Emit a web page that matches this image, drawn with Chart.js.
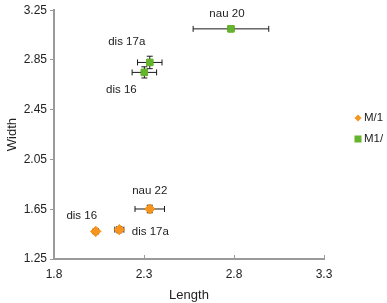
<!DOCTYPE html>
<html>
<head>
<meta charset="utf-8">
<script src="https://cdn.jsdelivr.net/npm/chart.js@4"></script>
<style>
  html, body { margin: 0; padding: 0; background: #ffffff; }
  #wrap { width: 387px; height: 303px; position: relative; }
</style>
</head>
<body>
<div id="wrap"><canvas id="chart"></canvas></div>
<script>
// series data
const seriesNames = ['M/1', 'M1/'];

const m1Labels = ['dis 16', 'dis 17a', 'nau 22'];
const m1Length = [2.032, 2.163, 2.332];
const m1Width = [1.472, 1.486, 1.652];
const m1LengthErr = [0.015, 0.025, 0.082];
const m1WidthErr = [0.012, 0.025, 0.03];

const m2Labels = ['dis 16', 'dis 17a', 'nau 20'];
const m2Length = [2.302, 2.332, 2.783];
const m2Width = [2.75, 2.83, 3.10];
const m2LengthErr = [0.068, 0.068, 0.21];
const m2WidthErr = [0.045, 0.05, 0.01];

const xTicks = [1.8, 2.3, 2.8, 3.3];
const yTicks = [1.25, 1.65, 2.05, 2.45, 2.85, 3.25];

const orange = '#F7941D';
const green = '#66B32E';
const font = "'Liberation Sans', Arial, sans-serif";

function toPoints(xs, ys, xe, ye, labels) {
    return xs.map((x, i) => ({ x: x, y: ys[i], xe: xe[i], ye: ye[i], label: labels[i] }));
}

// label offsets (pixels) relative to each point
const labelOffsets = [
    [[-14, -16], [31, 2], [0, -18]],
    [[-23, 17], [-23, -21], [-4, -15]]
];

const errorBars = {
    id: 'errorBars',
    afterDatasetsDraw(chart) {
        const ctx = chart.ctx;
        const xs = chart.scales.x, ys = chart.scales.y;
        ctx.save();
        ctx.strokeStyle = '#1a1a1a';
        ctx.lineWidth = 1;
        chart.data.datasets.forEach((ds, di) => {
            ds.data.forEach(p => {
                const cx = xs.getPixelForValue(p.x), cy = ys.getPixelForValue(p.y);
                const x0 = xs.getPixelForValue(p.x - p.xe), x1 = xs.getPixelForValue(p.x + p.xe);
                const y0 = ys.getPixelForValue(p.y - p.ye), y1 = ys.getPixelForValue(p.y + p.ye);
                const c = 3;
                ctx.beginPath();
                ctx.moveTo(x0, cy); ctx.lineTo(x1, cy);
                ctx.moveTo(x0, cy - c); ctx.lineTo(x0, cy + c);
                ctx.moveTo(x1, cy - c); ctx.lineTo(x1, cy + c);
                ctx.moveTo(cx, y0); ctx.lineTo(cx, y1);
                ctx.moveTo(cx - c, y0); ctx.lineTo(cx + c, y0);
                ctx.moveTo(cx - c, y1); ctx.lineTo(cx + c, y1);
                ctx.stroke();
            });
        });
        ctx.restore();
        // redraw points on top of the bars
        chart.data.datasets.forEach((ds, di) => {
            chart.getDatasetMeta(di).data.forEach(el => el.draw(ctx));
        });
    },
    afterDraw(chart) {
        const ctx = chart.ctx;
        const xs = chart.scales.x, ys = chart.scales.y;
        ctx.save();
        ctx.fillStyle = '#222';
        ctx.font = '11.5px ' + font;
        ctx.textAlign = 'center';
        ctx.textBaseline = 'middle';
        chart.data.datasets.forEach((ds, di) => {
            ds.data.forEach((p, i) => {
                const o = labelOffsets[di][i];
                ctx.fillText(p.label, xs.getPixelForValue(p.x) + o[0], ys.getPixelForValue(p.y) + o[1]);
            });
        });
        // inside tick marks on the x axis
        ctx.strokeStyle = '#9a9a9a';
        ctx.lineWidth = 1;
        xs.ticks.forEach(t => {
            const px = Math.round(xs.getPixelForValue(t.value)) + 0.5;
            ctx.beginPath();
            ctx.moveTo(px, ys.bottom);
            ctx.lineTo(px, ys.bottom - 4);
            ctx.stroke();
        });
        // legend
        ctx.textAlign = 'left';
        ctx.font = '11.5px ' + font;
        const lx = 358;
        const rows = [118, 139];
        chart.data.datasets.forEach((ds, di) => {
            const y = rows[di];
            ctx.fillStyle = ds.backgroundColor;
            if (di === 0) {
                ctx.beginPath();
                ctx.moveTo(lx, y - 3.5); ctx.lineTo(lx + 3.5, y);
                ctx.lineTo(lx, y + 3.5); ctx.lineTo(lx - 3.5, y);
                ctx.closePath();
                ctx.fill();
            } else {
                ctx.fillRect(lx - 3.5, y - 3.5, 7, 7);
            }
            ctx.fillStyle = '#222';
            ctx.fillText(ds.label, lx + 6, y);
        });
        ctx.restore();
    }
};

new Chart(document.getElementById('chart'), {
    type: 'scatter',
    data: {
        datasets: [{
            label: seriesNames[0],
            data: toPoints(m1Length, m1Width, m1LengthErr, m1WidthErr, m1Labels),
            backgroundColor: orange,
            borderColor: orange,
            pointStyle: 'rectRot',
            pointRadius: 5,
            pointHoverRadius: 5
        }, {
            label: seriesNames[1],
            data: toPoints(m2Length, m2Width, m2LengthErr, m2WidthErr, m2Labels),
            backgroundColor: green,
            borderColor: green,
            pointStyle: 'rect',
            pointRadius: 4.5,
            pointHoverRadius: 4.5
        }]
    },
    options: {
        responsive: true,
        maintainAspectRatio: false,
        animation: false,
        layout: { padding: { top: 6, right: 63, left: 0, bottom: 0 } },
        plugins: {
            legend: { display: false },
            tooltip: { enabled: false }
        },
        scales: {
            x: {
                type: 'linear',
                min: xTicks[0],
                max: xTicks[xTicks.length - 1],
                afterBuildTicks: s => { s.ticks = xTicks.map(v => ({ value: v })); },
                afterFit: s => { s.height = 44; },
                grid: { display: false },
                border: { color: '#9a9a9a', width: 2 },
                ticks: {
                    color: '#222',
                    padding: 0,
                    font: { size: 12, family: font },
                    callback: v => v.toFixed(1)
                },
                title: {
                    display: true,
                    text: 'Length',
                    color: '#222',
                    padding: { top: 2, bottom: 0 },
                    font: { size: 13, family: font }
                }
            },
            y: {
                type: 'linear',
                min: yTicks[0],
                max: yTicks[yTicks.length - 1],
                afterBuildTicks: s => { s.ticks = yTicks.map(v => ({ value: v })); },
                afterFit: s => { s.width = 54; },
                grid: { drawOnChartArea: false, drawTicks: true, tickLength: 4, color: '#9a9a9a' },
                border: { color: '#9a9a9a', width: 2 },
                ticks: {
                    color: '#222',
                    padding: 3,
                    font: { size: 12, family: font },
                    callback: v => v.toFixed(2)
                },
                title: {
                    display: true,
                    text: 'Width',
                    color: '#222',
                    padding: { top: 5, bottom: 0 },
                    font: { size: 13, family: font }
                }
            }
        }
    },
    plugins: [errorBars]
});
</script>
</body>
</html>
